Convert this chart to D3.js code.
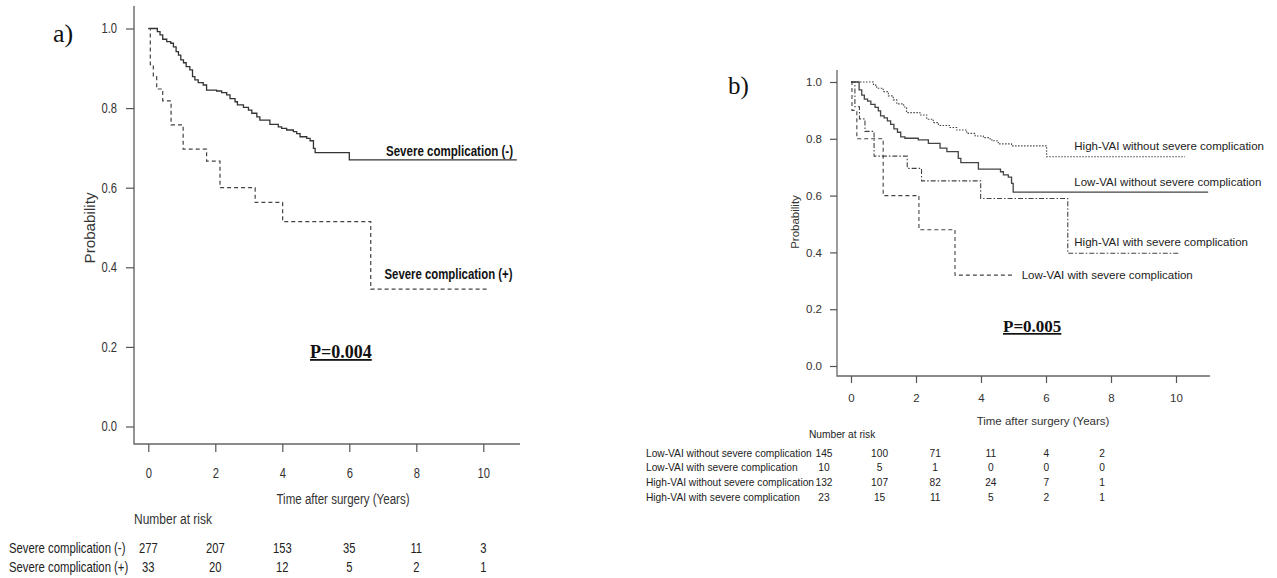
<!DOCTYPE html>
<html lang="en">
<head>
<meta charset="UTF-8">
<title>Survival curves</title>
<script src="https://d3js.org/d3.v7.min.js"></script>
<style>
  body { margin: 0; background: #fff; }
</style>
</head>
<body>
<script>
// ---- data ----
const timeTicks = [0, 2, 4, 6, 8, 10];
const probTicks = [0, 0.2, 0.4, 0.6, 0.8, 1.0];

// panel a
const aNegTimes = [0, 0.27, 0.35, 0.43, 0.55, 0.67, 0.75, 0.83, 0.90, 0.97, 1.05, 1.13, 1.24, 1.32, 1.39, 1.49, 1.64, 1.74, 2.04, 2.19, 2.34, 2.44, 2.59, 2.66, 2.84, 2.99, 3.09, 3.24, 3.33, 3.63, 3.88, 3.98, 4.13, 4.33, 4.43, 4.53, 4.73, 4.83, 4.93, 4.98, 6.0, 11.0];
const aNegSurv  = [1.0, 0.992, 0.984, 0.973, 0.967, 0.963, 0.954, 0.942, 0.933, 0.921, 0.914, 0.904, 0.896, 0.879, 0.871, 0.864, 0.858, 0.845, 0.843, 0.839, 0.833, 0.824, 0.816, 0.808, 0.802, 0.795, 0.787, 0.778, 0.770, 0.759, 0.753, 0.749, 0.745, 0.741, 0.736, 0.728, 0.724, 0.718, 0.699, 0.688, 0.670, 0.670];
const aPosTimes = [0, 0.06, 0.15, 0.25, 0.43, 0.68, 1.04, 1.74, 2.14, 3.19, 4.01, 6.64, 10.1];
const aPosSurv  = [1.0, 0.909, 0.879, 0.848, 0.818, 0.758, 0.697, 0.667, 0.600, 0.563, 0.515, 0.345, 0.345];
const aGroups = ["Severe complication (-)", "Severe complication (+)"];
const aRiskNeg = [277, 207, 153, 35, 11, 3];
const aRiskPos = [33, 20, 12, 5, 2, 1];

// panel b
const bLowNoTimes = [0, 0.25, 0.33, 0.41, 0.51, 0.61, 0.74, 0.84, 0.91, 1.02, 1.12, 1.22, 1.32, 1.43, 1.53, 1.66, 2.07, 2.38, 2.74, 2.95, 3.30, 3.38, 3.92, 4.60, 4.69, 4.84, 4.94, 4.99, 10.99];
const bLowNoSurv  = [1.0, 0.972, 0.954, 0.940, 0.933, 0.921, 0.911, 0.898, 0.881, 0.874, 0.863, 0.851, 0.835, 0.823, 0.807, 0.802, 0.796, 0.784, 0.767, 0.755, 0.731, 0.716, 0.693, 0.684, 0.673, 0.665, 0.643, 0.612, 0.612];
const bHighNoTimes = [0, 0.69, 0.79, 0.99, 1.15, 1.30, 1.41, 1.62, 1.71, 2.12, 2.33, 2.53, 2.69, 3.05, 3.25, 3.56, 3.82, 4.07, 4.28, 4.38, 4.53, 4.94, 6.02, 10.28];
const bHighNoSurv  = [1.0, 0.989, 0.978, 0.966, 0.951, 0.937, 0.923, 0.912, 0.892, 0.884, 0.869, 0.857, 0.847, 0.840, 0.831, 0.819, 0.810, 0.804, 0.796, 0.793, 0.782, 0.775, 0.737, 0.737];
const bHighWithTimes = [0, 0.12, 0.26, 0.43, 0.71, 1.73, 2.17, 3.99, 6.67, 10.12];
const bHighWithSurv  = [1.0, 0.913, 0.870, 0.826, 0.739, 0.696, 0.652, 0.590, 0.397, 0.397];
const bLowWithTimes = [0, 0.03, 0.18, 0.99, 2.09, 3.20, 5.0];
const bLowWithSurv  = [1.0, 0.90, 0.80, 0.60, 0.48, 0.32, 0.32];
const bGroups = ["Low-VAI without severe complication", "Low-VAI with severe complication",
                 "High-VAI without severe complication", "High-VAI with severe complication"];
const bRisk = [
  [145, 100, 71, 11, 4, 2],
  [10, 5, 1, 0, 0, 0],
  [132, 107, 82, 24, 7, 1],
  [23, 15, 11, 5, 2, 1]
];

// ---- svg ----
const svg = d3.select("body").append("svg")
  .attr("width", 1277).attr("height", 578)
  .style("background", "#fff");

const sans = "'Liberation Sans', Arial, sans-serif";
const serif = "'Liberation Serif', 'Times New Roman', serif";

const pairs = (ts, ss) => ts.map((t, i) => [t, ss[i]]);

// panel a uses a narrow face; squeeze the regular sans to look like it
function condense(sel, f) {
  sel.each(function () {
    const w = this.getComputedTextLength();
    d3.select(this).attr("textLength", w * f).attr("lengthAdjust", "spacingAndGlyphs");
  });
}

function styleAxis(g, size) {
  g.select(".domain").remove();
  g.selectAll(".tick line").attr("stroke", "#555").attr("stroke-width", 1.2);
  g.selectAll(".tick text").attr("fill", "#333")
    .style("font-family", sans).style("font-size", size + "px");
}

// ===== panel a =====
const xA = d3.scaleLinear().domain([0, 10]).range([148.3, 483.3]);
const yA = d3.scaleLinear().domain([0, 1]).range([426.5, 28.5]);
const lineA = d3.line().x(d => xA(d[0])).y(d => yA(d[1])).curve(d3.curveStepAfter);

svg.append("path").attr("d", "M134,6V444H520")
  .attr("fill", "none").attr("stroke", "#666").attr("stroke-width", 1.4);

svg.append("g").attr("transform", "translate(0,444)")
  .call(d3.axisBottom(xA).tickValues(timeTicks).tickSize(8).tickPadding(16))
  .call(g => styleAxis(g, 14))
  .call(g => condense(g.selectAll(".tick text"), 0.8));
svg.append("g").attr("transform", "translate(134,0)")
  .call(d3.axisLeft(yA).tickValues(probTicks).tickSize(8).tickPadding(9).tickFormat(d3.format(".1f")))
  .call(g => styleAxis(g, 14))
  .call(g => condense(g.selectAll(".tick text"), 0.8));

svg.append("path").datum(pairs(aNegTimes, aNegSurv)).attr("d", lineA)
  .attr("fill", "none").attr("stroke", "#333").attr("stroke-width", 1.3);
svg.append("path").datum(pairs(aPosTimes, aPosSurv)).attr("d", lineA)
  .attr("fill", "none").attr("stroke", "#444").attr("stroke-width", 1.2)
  .attr("stroke-dasharray", "4,3");

svg.append("text").attr("x", 53).attr("y", 42).text("a)")
  .style("font-family", serif).style("font-size", "26px").attr("fill", "#111");

svg.append("text").attr("transform", "translate(95,228) rotate(-90)")
  .attr("text-anchor", "middle").text("Probability")
  .attr("textLength", 71).attr("lengthAdjust", "spacingAndGlyphs")
  .style("font-family", sans).style("font-size", "14px").attr("fill", "#333");

svg.append("text").attr("x", 386).attr("y", 156).text(aGroups[0])
  .attr("textLength", 127).attr("lengthAdjust", "spacingAndGlyphs")
  .style("font-family", sans).style("font-size", "14px").style("font-weight", "bold").attr("fill", "#111");
svg.append("text").attr("x", 384.5).attr("y", 279).text(aGroups[1])
  .attr("textLength", 128).attr("lengthAdjust", "spacingAndGlyphs")
  .style("font-family", sans).style("font-size", "14px").style("font-weight", "bold").attr("fill", "#111");

svg.append("text").attr("x", 310).attr("y", 358).text("P=0.004")
  .style("font-family", serif).style("font-size", "18px").style("font-weight", "bold")
  .style("text-decoration", "underline").attr("fill", "#111");

svg.append("text").attr("x", 343).attr("y", 504).attr("text-anchor", "middle")
  .text("Time after surgery (Years)")
  .attr("textLength", 133).attr("lengthAdjust", "spacingAndGlyphs")
  .style("font-family", sans).style("font-size", "14px").attr("fill", "#333");
svg.append("text").attr("x", 134).attr("y", 524).text("Number at risk")
  .attr("textLength", 78).attr("lengthAdjust", "spacingAndGlyphs")
  .style("font-family", sans).style("font-size", "14px").attr("fill", "#333");

[aRiskNeg, aRiskPos].forEach((row, r) => {
  const yb = 552.5 + r * 19;
  // squeeze with a transform so the box of the label really is narrow
  svg.append("text").attr("transform", `translate(9,${yb}) scale(0.81,1)`).text(aGroups[r])
    .style("font-family", sans).style("font-size", "14px").attr("fill", "#222");
  svg.append("g").selectAll("text").data(row).join("text")
    .attr("x", (d, i) => xA(timeTicks[i])).attr("y", yb)
    .attr("text-anchor", "middle").text(d => d)
    .style("font-family", sans).style("font-size", "14px").attr("fill", "#222")
    .call(s => condense(s, 0.8));
});

// ===== panel b =====
const xB = d3.scaleLinear().domain([0, 10]).range([851, 1176]);
const yB = d3.scaleLinear().domain([0, 1]).range([366, 82]);
const lineB = d3.line().x(d => xB(d[0])).y(d => yB(d[1])).curve(d3.curveStepAfter);

svg.append("path").attr("d", "M837,70V376H1210")
  .attr("fill", "none").attr("stroke", "#666").attr("stroke-width", 1.3);

svg.append("g").attr("transform", "translate(0,376)")
  .call(d3.axisBottom(xB).tickValues(timeTicks).tickSize(7).tickPadding(11))
  .call(g => styleAxis(g, 11.5));
svg.append("g").attr("transform", "translate(837,0)")
  .call(d3.axisLeft(yB).tickValues(probTicks).tickSize(7).tickPadding(8).tickFormat(d3.format(".1f")))
  .call(g => styleAxis(g, 11.5));

const bCurves = [
  { d: pairs(bHighNoTimes, bHighNoSurv), dash: "1.5,1.5", w: 1.1 },
  { d: pairs(bLowNoTimes, bLowNoSurv), dash: null, w: 1.3 },
  { d: pairs(bHighWithTimes, bHighWithSurv), dash: "5,2,1.5,2", w: 1.1 },
  { d: pairs(bLowWithTimes, bLowWithSurv), dash: "4,3", w: 1.1 }
];
bCurves.forEach(c => {
  svg.append("path").datum(c.d).attr("d", lineB)
    .attr("fill", "none").attr("stroke", "#444").attr("stroke-width", c.w)
    .attr("stroke-dasharray", c.dash);
});

svg.append("text").attr("x", 728).attr("y", 94).text("b)")
  .style("font-family", serif).style("font-size", "25px").attr("fill", "#111");

svg.append("text").attr("transform", "translate(799,222) rotate(-90)")
  .attr("text-anchor", "middle").text("Probability")
  .style("font-family", sans).style("font-size", "11.5px").attr("fill", "#333");

const bLabels = [
  { text: bGroups[2], x: 1074.3, y: 149.7 },
  { text: bGroups[0], x: 1074.3, y: 186.3 },
  { text: bGroups[3], x: 1074.3, y: 246.3 },
  { text: bGroups[1], x: 1021.7, y: 279 }
];
svg.append("g").selectAll("text").data(bLabels).join("text")
  .attr("x", d => d.x).attr("y", d => d.y).text(d => d.text)
  .style("font-family", sans).style("font-size", "11.5px").attr("fill", "#222");

svg.append("text").attr("x", 1003).attr("y", 332).text("P=0.005")
  .style("font-family", serif).style("font-size", "17px").style("font-weight", "bold")
  .style("text-decoration", "underline").attr("fill", "#111");

svg.append("text").attr("x", 1043).attr("y", 425).attr("text-anchor", "middle")
  .text("Time after surgery (Years)")
  .style("font-family", sans).style("font-size", "11.5px").attr("fill", "#333");

// risk table b sits on its own column grid
const riskXB = d3.scaleLinear().domain([0, 10]).range([824, 1102]);
svg.append("text").attr("x", 809).attr("y", 437.5).text("Number at risk")
  .style("font-family", sans).style("font-size", "10.2px").attr("fill", "#222");
bRisk.forEach((row, r) => {
  const yb = 456.5 + r * 14.7;
  svg.append("text").attr("x", 646).attr("y", yb).text(bGroups[r])
    .style("font-family", sans).style("font-size", "10.2px").attr("fill", "#222");
  svg.append("g").selectAll("text").data(row).join("text")
    .attr("x", (d, i) => riskXB(timeTicks[i])).attr("y", yb)
    .attr("text-anchor", "middle").text(d => d)
    .style("font-family", sans).style("font-size", "10.2px").attr("fill", "#222");
});
</script>
</body>
</html>
